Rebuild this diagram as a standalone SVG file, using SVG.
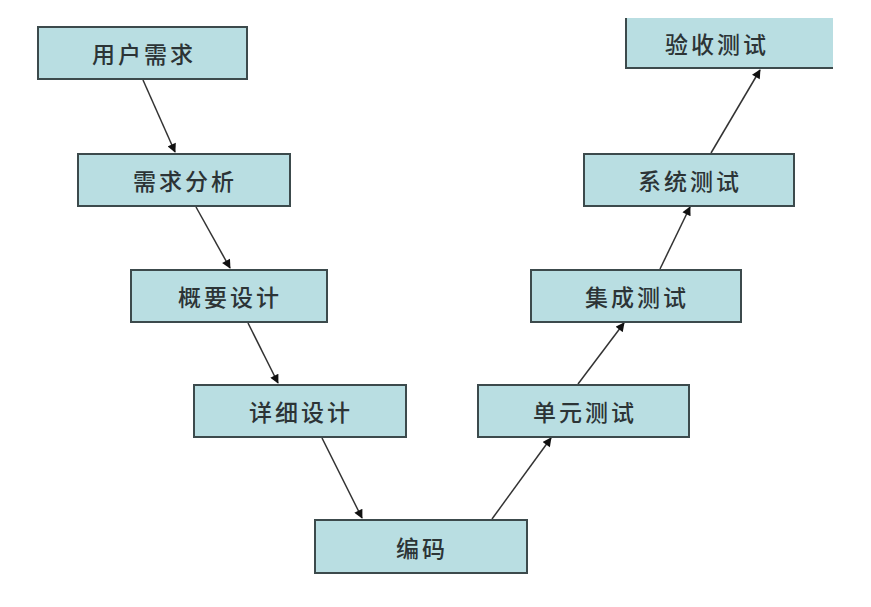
<svg xmlns="http://www.w3.org/2000/svg" width="871" height="607" viewBox="0 0 871 607">
<style>
.box{fill:#b9dee2;stroke:#3c4a4c;stroke-width:2}
.lbl{font-family:"Noto Sans CJK SC",sans-serif;font-size:23px;font-weight:500;fill:#2c3436;text-anchor:middle;dominant-baseline:central;letter-spacing:3px}
.conn{stroke:#333;stroke-width:1.5;fill:none;marker-end:url(#ah)}
</style>
<defs>
<marker id="ah" viewBox="0 0 10 10" refX="9" refY="5" markerWidth="10" markerHeight="9" orient="auto" markerUnits="userSpaceOnUse">
<path d="M0,0 L10,5 L0,10 z" fill="#111"/>
</marker>
</defs>
<rect width="871" height="607" fill="#ffffff"/>
<g id="connectors">
<line class="conn" x1="143" y1="80" x2="175" y2="152"/>
<line class="conn" x1="196" y1="207" x2="230" y2="268"/>
<line class="conn" x1="248" y1="323" x2="278" y2="383"/>
<line class="conn" x1="322" y1="438" x2="362" y2="518"/>
<line class="conn" x1="492" y1="519" x2="551" y2="438"/>
<line class="conn" x1="578" y1="384" x2="624" y2="323"/>
<line class="conn" x1="660" y1="269" x2="690" y2="207"/>
<line class="conn" x1="711" y1="153" x2="760" y2="70"/>
</g>
<g id="n1"><rect class="box" x="38" y="27" width="209" height="52"/><text class="lbl" x="144" y="53">用户需求</text></g>
<g id="n2"><rect class="box" x="78" y="154" width="212" height="52"/><text class="lbl" x="185" y="180">需求分析</text></g>
<g id="n3"><rect class="box" x="131" y="270" width="196" height="52"/><text class="lbl" x="230" y="296">概要设计</text></g>
<g id="n4"><rect class="box" x="194" y="385" width="212" height="52"/><text class="lbl" x="301" y="411">详细设计</text></g>
<g id="n5"><rect class="box" x="315" y="520" width="212" height="53"/><text class="lbl" x="422" y="547">编码</text></g>
<g id="n6"><rect class="box" x="478" y="385" width="211" height="52"/><text class="lbl" x="585" y="411">单元测试</text></g>
<g id="n7"><rect class="box" x="531" y="270" width="210" height="52"/><text class="lbl" x="637" y="296">集成测试</text></g>
<g id="n8"><rect class="box" x="584" y="154" width="210" height="52"/><text class="lbl" x="690" y="180">系统测试</text></g>
<g id="n9"><rect x="626" y="18" width="207" height="50" fill="#b9dee2"/><path d="M626,18 V68 H833" fill="none" stroke="#3c4a4c" stroke-width="2"/><text class="lbl" x="717" y="43">验收测试</text></g>
</svg>
